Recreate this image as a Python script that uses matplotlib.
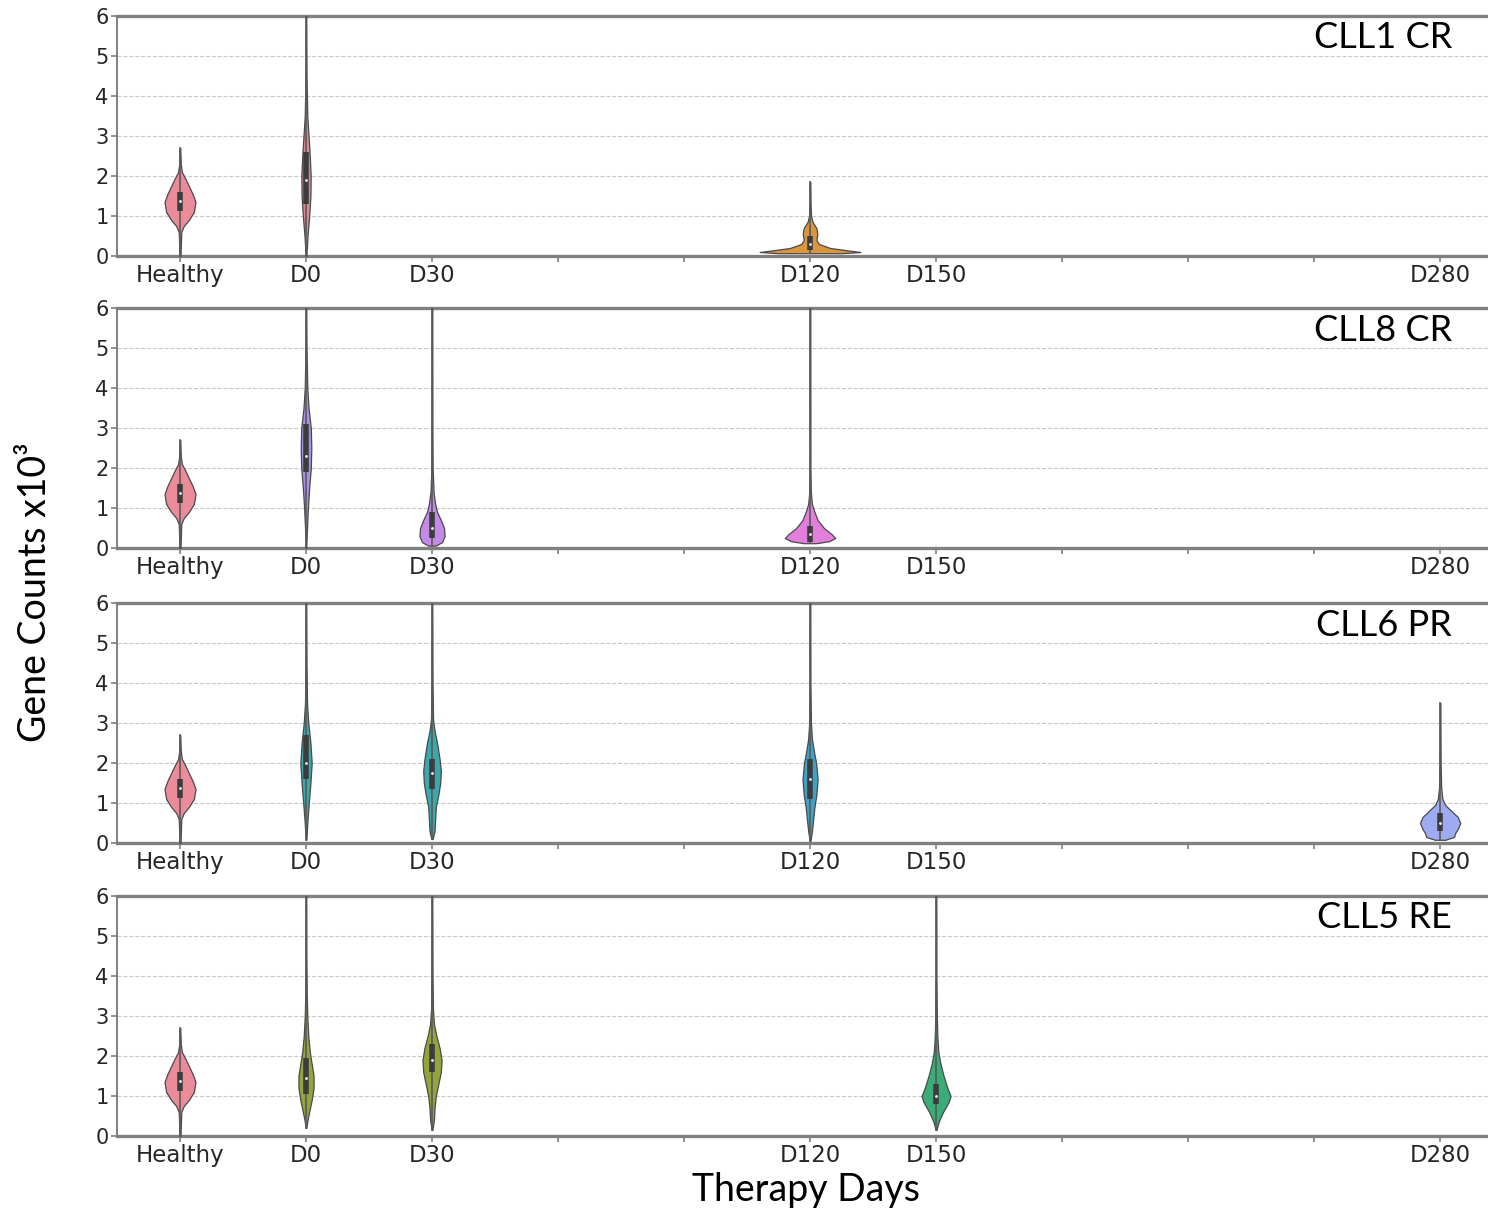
import numpy as np
import matplotlib.pyplot as plt

# Category slots along the therapy axis (empty strings are unlabeled slots)
CATEGORIES = ['Healthy', 'D0', 'D30', '', '', 'D120', 'D150', '', '', '', 'D280']
PANELS = ['CLL1 CR', 'CLL8 CR', 'CLL6 PR', 'CLL5 RE']
Y_TICKS = [0, 1, 2, 3, 4, 5, 6]

# Violin outlines: levels (x10^3 counts) and half widths
# (fraction of a category slot), plus inner box (q1, median, q3)
healthy_levels = [0.0, 0.6, 0.75, 0.9, 1.1, 1.35, 1.55, 1.75, 1.95, 2.1, 2.3, 2.7]
healthy_widths = [0.004, 0.01, 0.03, 0.07, 0.11, 0.123, 0.10, 0.07, 0.04, 0.015, 0.006, 0.002]
healthy_box = [1.13, 1.37, 1.6]

cll1_d0_levels = [0.0, 0.5, 1.0, 1.5, 2.0, 2.5, 3.0, 3.5, 4.5, 6.0]
cll1_d0_widths = [0.003, 0.012, 0.025, 0.035, 0.037, 0.03, 0.02, 0.01, 0.004, 0.002]
cll1_d0_box = [1.3, 1.9, 2.6]

cll1_d120_levels = [0.07, 0.1, 0.14, 0.2, 0.3, 0.4, 0.55, 0.7, 0.85, 1.0, 1.3, 1.85]
cll1_d120_widths = [0.25, 0.40, 0.30, 0.16, 0.07, 0.05, 0.058, 0.05, 0.02, 0.008, 0.004, 0.002]
cll1_d120_box = [0.15, 0.3, 0.5]

cll8_d0_levels = [0.0, 0.5, 1.0, 1.5, 2.0, 2.5, 3.0, 3.5, 4.0, 5.0, 6.0]
cll8_d0_widths = [0.002, 0.008, 0.015, 0.025, 0.038, 0.042, 0.038, 0.02, 0.01, 0.004, 0.002]
cll8_d0_box = [1.9, 2.3, 3.1]

cll8_d30_levels = [0.06, 0.15, 0.3, 0.5, 0.7, 0.9, 1.1, 1.4, 2.0, 3.0, 6.0]
cll8_d30_widths = [0.03, 0.08, 0.10, 0.095, 0.07, 0.04, 0.025, 0.012, 0.005, 0.003, 0.002]
cll8_d30_box = [0.25, 0.5, 0.9]

cll8_d120_levels = [0.12, 0.17, 0.25, 0.35, 0.5, 0.7, 0.9, 1.1, 1.4, 2.0, 6.0]
cll8_d120_widths = [0.05, 0.15, 0.20, 0.17, 0.11, 0.06, 0.035, 0.015, 0.006, 0.003, 0.002]
cll8_d120_box = [0.15, 0.35, 0.55]

cll6_d0_levels = [0.08, 0.5, 1.0, 1.5, 2.0, 2.5, 3.0, 3.5, 4.5, 6.0]
cll6_d0_widths = [0.003, 0.01, 0.022, 0.035, 0.045, 0.035, 0.018, 0.008, 0.004, 0.002]
cll6_d0_box = [1.6, 2.0, 2.7]

cll6_d30_levels = [0.1, 0.3, 0.6, 0.9, 1.2, 1.5, 1.8, 2.1, 2.5, 2.8, 3.1, 4.0, 6.0]
cll6_d30_widths = [0.005, 0.02, 0.025, 0.03, 0.05, 0.065, 0.07, 0.06, 0.04, 0.02, 0.008, 0.004, 0.002]
cll6_d30_box = [1.35, 1.75, 2.1]

cll6_d120_levels = [0.05, 0.3, 0.6, 0.9, 1.2, 1.6, 2.0, 2.3, 2.6, 3.0, 4.0, 6.0]
cll6_d120_widths = [0.003, 0.015, 0.025, 0.035, 0.05, 0.06, 0.048, 0.03, 0.015, 0.007, 0.003, 0.002]
cll6_d120_box = [1.1, 1.6, 2.1]

cll6_d280_levels = [0.08, 0.15, 0.25, 0.35, 0.5, 0.65, 0.8, 0.95, 1.1, 1.4, 2.0, 3.5]
cll6_d280_widths = [0.04, 0.11, 0.12, 0.14, 0.16, 0.14, 0.09, 0.04, 0.018, 0.008, 0.004, 0.002]
cll6_d280_box = [0.3, 0.5, 0.75]

cll5_d0_levels = [0.2, 0.4, 0.6, 0.9, 1.2, 1.5, 1.8, 2.1, 2.5, 3.0, 3.5, 4.5, 6.0]
cll5_d0_widths = [0.003, 0.012, 0.025, 0.045, 0.06, 0.06, 0.045, 0.03, 0.018, 0.01, 0.006, 0.003, 0.002]
cll5_d0_box = [1.05, 1.45, 1.95]

cll5_d30_levels = [0.15, 0.4, 0.7, 1.0, 1.3, 1.6, 1.9, 2.2, 2.5, 2.8, 3.2, 4.0, 6.0]
cll5_d30_widths = [0.003, 0.015, 0.02, 0.03, 0.05, 0.07, 0.076, 0.06, 0.035, 0.015, 0.007, 0.004, 0.002]
cll5_d30_box = [1.6, 1.9, 2.3]

cll5_d150_levels = [0.15, 0.35, 0.6, 0.85, 1.0, 1.2, 1.5, 1.8, 2.1, 2.5, 3.0, 4.0, 6.0]
cll5_d150_widths = [0.003, 0.02, 0.055, 0.10, 0.115, 0.09, 0.06, 0.035, 0.018, 0.01, 0.006, 0.003, 0.002]
cll5_d150_box = [0.8, 1.0, 1.3]

healthy = ('Healthy', healthy_levels, healthy_widths, healthy_box)
panel_violins = [
    [healthy,
     ('D0', cll1_d0_levels, cll1_d0_widths, cll1_d0_box),
     ('D120', cll1_d120_levels, cll1_d120_widths, cll1_d120_box)],
    [healthy,
     ('D0', cll8_d0_levels, cll8_d0_widths, cll8_d0_box),
     ('D30', cll8_d30_levels, cll8_d30_widths, cll8_d30_box),
     ('D120', cll8_d120_levels, cll8_d120_widths, cll8_d120_box)],
    [healthy,
     ('D0', cll6_d0_levels, cll6_d0_widths, cll6_d0_box),
     ('D30', cll6_d30_levels, cll6_d30_widths, cll6_d30_box),
     ('D120', cll6_d120_levels, cll6_d120_widths, cll6_d120_box),
     ('D280', cll6_d280_levels, cll6_d280_widths, cll6_d280_box)],
    [healthy,
     ('D0', cll5_d0_levels, cll5_d0_widths, cll5_d0_box),
     ('D30', cll5_d30_levels, cll5_d30_widths, cll5_d30_box),
     ('D150', cll5_d150_levels, cll5_d150_widths, cll5_d150_box)],
]

# Fill colours per panel, in the same order as panel_violins
panel_colors = [
    ['#ec8b99', '#d98a96', '#d9963e'],
    ['#ec8b99', '#a890e6', '#c38ae8', '#e27edc'],
    ['#ec8b99', '#3aa8ac', '#3aa8ac', '#3ea2c6', '#9eaaf2'],
    ['#ec8b99', '#94a43c', '#94a43c', '#3aac78'],
]

LABEL_FONT = ['Lato', 'DejaVu Sans']

fig = plt.figure(figsize=(14.88, 12.12), dpi=100)
left, width, height = 117 / 1488, 1371 / 1488, 240 / 1212
bottoms = [1 - 256 / 1212, 1 - 548 / 1212, 1 - 843 / 1212, 1 - 1136 / 1212]

for i, (name, violins, colors) in enumerate(zip(PANELS, panel_violins, panel_colors)):
    ax = fig.add_axes([left, bottoms[i], width, height])
    for (cat, levels, widths, box), color in zip(violins, colors):
        x0 = CATEGORIES.index(cat)
        lv = np.array(levels)
        w = np.array(widths)
        ax.fill_betweenx(lv, x0 - w, x0 + w, facecolor=color, edgecolor='#4a4a4a',
                         linewidth=0.9, zorder=3)
        ax.plot([x0, x0], [lv.min(), lv.max()], color='#5a5a5a', lw=1.2, zorder=4)
        ax.plot([x0, x0], [box[0], box[2]], color='#3c3c3c', lw=4,
                solid_capstyle='butt', zorder=5)
        ax.plot(x0, box[1], 'o', color='white', ms=2, mew=0, zorder=6)

    ax.set_xlim(-0.5, 10.38)
    ax.set_ylim(0, 6)
    ax.set_xticks(range(len(CATEGORIES)))
    ax.set_xticklabels(CATEGORIES)
    ax.set_yticks(Y_TICKS)
    ax.tick_params(axis='both', colors='#808080', labelcolor='#262626',
                   length=4, width=1.2)
    ax.tick_params(axis='x', labelsize=16.5, pad=2)
    ax.tick_params(axis='y', labelsize=15, pad=2)
    ax.yaxis.grid(True, ls='--', color='#c8c8c8', lw=0.8)
    ax.set_axisbelow(True)
    ax.spines['right'].set_visible(False)
    ax.spines['top'].set_linewidth(2.4)
    ax.spines['bottom'].set_linewidth(2.4)
    ax.spines['left'].set_linewidth(1.4)
    for s in ['top', 'bottom', 'left']:
        ax.spines[s].set_color('#808080')
    fig.text(1452 / 1488, bottoms[i] + height - 22 / 1212, name, ha='right', va='center',
             fontsize=26, family=LABEL_FONT, color='black')

fig.text(35 / 1488, 1 - 592 / 1212, 'Gene Counts x10³', rotation=90, ha='center',
         va='center', fontsize=27, family=LABEL_FONT)
fig.text(806 / 1488, 1 - 1190 / 1212, 'Therapy Days', ha='center', va='center',
         fontsize=27, family=LABEL_FONT)

fig.savefig('out.png', dpi=100)
